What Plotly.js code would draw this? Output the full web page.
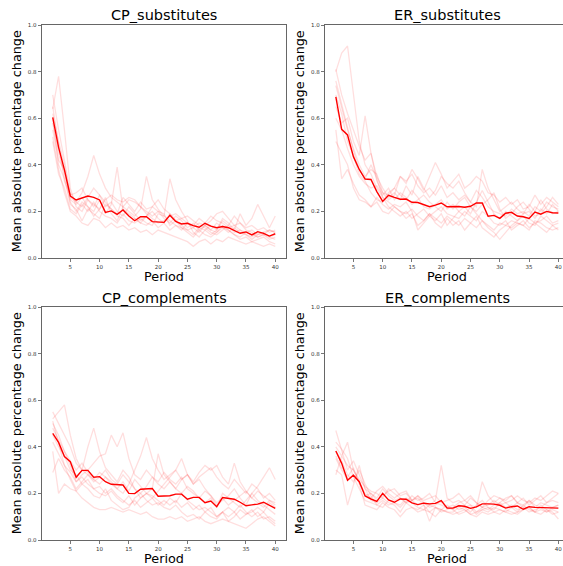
<!DOCTYPE html>
<html>
<head>
<meta charset="utf-8">
<script src="https://cdn.plot.ly/plotly-3.0.1.min.js"></script>
<style>
html,body{margin:0;padding:0;background:#fff;}
#chart{width:563px;height:566px;}
</style>
</head>
<body>
<div id="chart"></div>
<script>
const periods = [2,3,4,5,6,7,8,9,10,11,12,13,14,15,16,17,18,19,20,21,22,23,24,25,26,27,28,29,30,31,32,33,34,35,36,37,38,39,40];
const panelTitles = ["CP_substitutes","ER_substitutes","CP_complements","ER_complements"];
const xTickVals = [5,10,15,20,25,30,35,40];
const yTickVals = [0,0.2,0.4,0.6,0.8,1.0];

// Mean lines (bold red)
const meanCPsub = [0.604,0.475,0.378,0.266,0.249,0.257,0.266,0.260,0.249,0.196, 0.202,0.187,0.206,0.180,0.160,0.177,0.177,0.156,0.156,0.153, 0.183,0.157,0.146,0.149,0.139,0.132,0.149,0.137,0.130,0.135, 0.130,0.119,0.106,0.112,0.099,0.113,0.106,0.094,0.104];
const meanERsub = [0.692,0.552,0.528,0.435,0.380,0.339,0.337,0.285,0.243,0.269, 0.260,0.252,0.253,0.239,0.238,0.229,0.220,0.227,0.236,0.220, 0.221,0.221,0.218,0.222,0.236,0.236,0.179,0.183,0.170,0.192, 0.196,0.180,0.177,0.170,0.197,0.188,0.200,0.194,0.193];
const meanCPcomp = [0.458,0.419,0.358,0.336,0.269,0.299,0.299,0.269,0.272,0.250, 0.239,0.239,0.236,0.200,0.199,0.218,0.219,0.221,0.188,0.188, 0.190,0.197,0.197,0.175,0.183,0.183,0.160,0.167,0.143,0.182, 0.180,0.175,0.162,0.147,0.151,0.154,0.162,0.149,0.136];
const meanERcomp = [0.382,0.329,0.256,0.278,0.250,0.189,0.176,0.166,0.200,0.172, 0.162,0.176,0.175,0.159,0.152,0.158,0.155,0.157,0.169,0.137, 0.137,0.147,0.145,0.136,0.142,0.155,0.155,0.154,0.149,0.137, 0.143,0.146,0.132,0.143,0.140,0.139,0.139,0.137,0.137];

// Individual runs (faint red)
const runsCPsub = [
 [0.70,0.55,0.42,0.28,0.24,0.22,0.26,0.30,0.27,0.22, 0.24,0.20,0.18,0.22,0.19,0.16,0.18,0.20,0.17,0.15, 0.19,0.16,0.14,0.12,0.13,0.15,0.14,0.12,0.11,0.13, 0.12,0.10,0.09,0.11,0.10,0.09,0.10,0.08,0.09],
 [0.64,0.78,0.55,0.30,0.22,0.20,0.25,0.22,0.27,0.24, 0.21,0.19,0.26,0.23,0.20,0.24,0.21,0.22,0.25,0.21, 0.19,0.16,0.17,0.15,0.14,0.17,0.15,0.18,0.16,0.15, 0.13,0.14,0.12,0.11,0.12,0.10,0.11,0.12,0.11],
 [0.62,0.50,0.40,0.26,0.24,0.28,0.35,0.44,0.36,0.30, 0.26,0.24,0.22,0.25,0.24,0.22,0.20,0.18,0.20,0.17, 0.15,0.18,0.16,0.13,0.15,0.12,0.14,0.16,0.19,0.20, 0.17,0.14,0.15,0.13,0.14,0.12,0.13,0.11,0.12],
 [0.58,0.45,0.36,0.24,0.20,0.24,0.22,0.20,0.25,0.19, 0.23,0.39,0.21,0.19,0.17,0.15,0.18,0.22,0.20,0.19, 0.14,0.16,0.13,0.11,0.09,0.12,0.10,0.09,0.11,0.14, 0.12,0.10,0.08,0.09,0.07,0.08,0.09,0.07,0.06],
 [0.55,0.42,0.38,0.25,0.23,0.26,0.22,0.18,0.21,0.26, 0.19,0.16,0.22,0.20,0.18,0.21,0.35,0.25,0.21,0.18, 0.16,0.14,0.12,0.15,0.13,0.11,0.14,0.12,0.15,0.13, 0.11,0.13,0.11,0.10,0.09,0.11,0.10,0.09,0.10],
 [0.50,0.36,0.30,0.21,0.19,0.23,0.20,0.24,0.20,0.18, 0.17,0.15,0.19,0.16,0.15,0.17,0.15,0.14,0.19,0.18, 0.34,0.25,0.20,0.16,0.11,0.09,0.12,0.10,0.12,0.16, 0.14,0.11,0.12,0.10,0.08,0.10,0.11,0.09,0.08],
 [0.60,0.40,0.34,0.23,0.21,0.16,0.21,0.19,0.17,0.23, 0.21,0.18,0.17,0.14,0.17,0.15,0.14,0.16,0.13,0.15, 0.12,0.14,0.13,0.12,0.10,0.13,0.12,0.14,0.12,0.17, 0.15,0.12,0.19,0.14,0.17,0.23,0.18,0.13,0.18],
 [0.52,0.38,0.28,0.20,0.18,0.15,0.14,0.17,0.16,0.13, 0.15,0.13,0.14,0.12,0.13,0.11,0.12,0.10,0.12,0.11, 0.10,0.09,0.08,0.07,0.05,0.07,0.08,0.06,0.08,0.07, 0.09,0.08,0.07,0.06,0.07,0.06,0.05,0.06,0.05],
 [0.65,0.48,0.33,0.27,0.28,0.30,0.25,0.23,0.21,0.25, 0.27,0.25,0.24,0.26,0.25,0.22,0.19,0.17,0.15,0.16, 0.18,0.19,0.17,0.18,0.16,0.14,0.13,0.11,0.10,0.12, 0.14,0.18,0.15,0.12,0.11,0.09,0.10,0.12,0.11]
];
const runsERsub = [
 [0.80,0.88,0.91,0.70,0.50,0.40,0.36,0.30,0.26,0.24, 0.22,0.20,0.19,0.21,0.18,0.16,0.19,0.17,0.15,0.18, 0.16,0.14,0.17,0.15,0.13,0.16,0.14,0.12,0.15,0.14, 0.16,0.15,0.14,0.17,0.15,0.16,0.18,0.15,0.16],
 [0.81,0.70,0.62,0.55,0.48,0.42,0.45,0.33,0.28,0.27, 0.30,0.35,0.33,0.36,0.31,0.28,0.30,0.27,0.31,0.26, 0.28,0.25,0.27,0.24,0.29,0.26,0.22,0.20,0.19,0.18, 0.21,0.19,0.20,0.18,0.22,0.20,0.24,0.22,0.21],
 [0.65,0.58,0.60,0.50,0.44,0.61,0.45,0.35,0.30,0.26, 0.28,0.25,0.31,0.27,0.35,0.30,0.26,0.29,0.35,0.32, 0.30,0.33,0.28,0.24,0.22,0.38,0.30,0.25,0.20,0.22, 0.24,0.21,0.19,0.23,0.20,0.25,0.21,0.19,0.20],
 [0.74,0.64,0.55,0.47,0.40,0.35,0.38,0.36,0.28,0.25, 0.27,0.35,0.32,0.38,0.34,0.29,0.35,0.41,0.36,0.30, 0.33,0.36,0.30,0.32,0.35,0.33,0.28,0.27,0.24,0.26, 0.23,0.25,0.21,0.22,0.27,0.23,0.26,0.24,0.22],
 [0.55,0.34,0.38,0.32,0.27,0.25,0.22,0.24,0.20,0.19, 0.22,0.20,0.17,0.19,0.14,0.16,0.19,0.15,0.13,0.17, 0.14,0.16,0.12,0.15,0.18,0.13,0.11,0.09,0.12,0.14, 0.13,0.15,0.14,0.12,0.16,0.15,0.13,0.12,0.13],
 [0.50,0.45,0.40,0.30,0.25,0.24,0.22,0.26,0.23,0.21, 0.23,0.22,0.24,0.20,0.12,0.15,0.18,0.16,0.19,0.14, 0.17,0.20,0.18,0.22,0.19,0.16,0.13,0.11,0.08,0.11, 0.14,0.16,0.18,0.15,0.14,0.18,0.16,0.14,0.15],
 [0.70,0.62,0.50,0.44,0.36,0.33,0.28,0.25,0.24,0.28, 0.30,0.27,0.25,0.29,0.26,0.22,0.21,0.23,0.25,0.21, 0.23,0.20,0.22,0.19,0.24,0.29,0.24,0.19,0.17,0.20, 0.18,0.16,0.19,0.20,0.17,0.21,0.19,0.23,0.20],
 [0.60,0.55,0.47,0.40,0.35,0.32,0.30,0.31,0.27,0.30, 0.25,0.28,0.26,0.23,0.25,0.27,0.24,0.22,0.20,0.24, 0.21,0.24,0.26,0.22,0.20,0.23,0.25,0.28,0.21,0.17, 0.19,0.22,0.24,0.21,0.18,0.19,0.22,0.26,0.23],
 [0.76,0.66,0.56,0.46,0.38,0.34,0.40,0.34,0.26,0.22, 0.20,0.18,0.20,0.17,0.19,0.21,0.18,0.20,0.22,0.19, 0.18,0.17,0.20,0.18,0.16,0.20,0.18,0.15,0.14,0.16, 0.12,0.14,0.16,0.13,0.15,0.13,0.11,0.14,0.12]
];
const runsCPcomp = [
 [0.52,0.55,0.58,0.45,0.35,0.30,0.28,0.25,0.27,0.30, 0.26,0.24,0.28,0.25,0.22,0.20,0.23,0.27,0.24,0.22, 0.25,0.22,0.26,0.28,0.24,0.27,0.29,0.31,0.27,0.24, 0.22,0.26,0.23,0.20,0.24,0.22,0.18,0.20,0.17],
 [0.55,0.50,0.45,0.40,0.33,0.30,0.40,0.48,0.38,0.31, 0.28,0.25,0.30,0.27,0.22,0.18,0.20,0.19,0.17,0.15, 0.18,0.16,0.20,0.17,0.15,0.13,0.14,0.12,0.10,0.12, 0.14,0.12,0.09,0.11,0.13,0.10,0.12,0.09,0.07],
 [0.50,0.45,0.38,0.32,0.25,0.28,0.30,0.33,0.36,0.37, 0.45,0.40,0.46,0.35,0.28,0.26,0.30,0.27,0.25,0.29, 0.26,0.24,0.27,0.22,0.20,0.18,0.21,0.19,0.16,0.18, 0.15,0.17,0.19,0.21,0.18,0.16,0.14,0.17,0.15],
 [0.38,0.20,0.24,0.22,0.21,0.24,0.22,0.19,0.18,0.22, 0.17,0.15,0.13,0.14,0.18,0.20,0.17,0.15,0.16,0.14, 0.13,0.15,0.12,0.10,0.11,0.09,0.12,0.14,0.10,0.12, 0.08,0.10,0.13,0.11,0.12,0.14,0.12,0.16,0.14],
 [0.29,0.35,0.30,0.27,0.22,0.25,0.28,0.26,0.29,0.27, 0.25,0.22,0.20,0.24,0.30,0.36,0.44,0.35,0.30,0.26, 0.28,0.30,0.26,0.28,0.24,0.26,0.22,0.19,0.15,0.17, 0.19,0.22,0.18,0.15,0.20,0.17,0.15,0.13,0.11],
 [0.51,0.42,0.32,0.26,0.21,0.18,0.16,0.14,0.13,0.13, 0.14,0.13,0.12,0.13,0.12,0.11,0.12,0.10,0.09,0.09, 0.10,0.09,0.10,0.08,0.09,0.10,0.08,0.07,0.08,0.09, 0.08,0.07,0.06,0.05,0.07,0.09,0.10,0.08,0.06],
 [0.45,0.40,0.36,0.30,0.28,0.24,0.26,0.22,0.20,0.19, 0.21,0.18,0.16,0.19,0.15,0.18,0.20,0.22,0.37,0.28, 0.25,0.22,0.20,0.23,0.21,0.18,0.16,0.18,0.14,0.20, 0.18,0.16,0.14,0.17,0.20,0.23,0.27,0.31,0.26],
 [0.48,0.43,0.38,0.34,0.30,0.33,0.29,0.26,0.24,0.27, 0.24,0.22,0.25,0.21,0.26,0.23,0.20,0.18,0.21,0.24, 0.27,0.30,0.35,0.28,0.25,0.29,0.32,0.30,0.32,0.27, 0.24,0.33,0.25,0.21,0.18,0.21,0.19,0.17,0.16],
 [0.42,0.37,0.32,0.29,0.25,0.27,0.24,0.22,0.23,0.20, 0.22,0.19,0.17,0.15,0.17,0.14,0.16,0.18,0.15,0.17, 0.15,0.17,0.14,0.16,0.13,0.15,0.12,0.10,0.09,0.12, 0.10,0.12,0.15,0.12,0.10,0.12,0.09,0.10,0.08]
];
const runsERcomp = [
 [0.47,0.38,0.30,0.34,0.28,0.22,0.20,0.18,0.22,0.19, 0.17,0.18,0.16,0.17,0.15,0.16,0.14,0.15,0.17,0.14, 0.15,0.13,0.14,0.15,0.12,0.14,0.13,0.15,0.16,0.14, 0.15,0.13,0.14,0.12,0.13,0.14,0.12,0.13,0.12],
 [0.40,0.36,0.42,0.30,0.25,0.20,0.18,0.21,0.23,0.20, 0.18,0.20,0.21,0.17,0.19,0.16,0.15,0.17,0.32,0.18, 0.16,0.17,0.15,0.18,0.16,0.14,0.15,0.17,0.15,0.16, 0.14,0.16,0.15,0.17,0.14,0.16,0.15,0.14,0.15],
 [0.30,0.28,0.15,0.24,0.32,0.22,0.17,0.16,0.18,0.16, 0.15,0.12,0.16,0.14,0.13,0.15,0.12,0.10,0.13,0.15, 0.13,0.11,0.12,0.14,0.11,0.13,0.12,0.14,0.13,0.12, 0.14,0.12,0.15,0.13,0.12,0.11,0.13,0.12,0.09],
 [0.35,0.30,0.26,0.28,0.25,0.19,0.20,0.17,0.19,0.21, 0.22,0.19,0.20,0.17,0.18,0.15,0.08,0.14,0.12,0.13, 0.14,0.16,0.17,0.15,0.14,0.25,0.19,0.16,0.18,0.17, 0.19,0.16,0.18,0.15,0.17,0.19,0.16,0.17,0.16],
 [0.28,0.36,0.32,0.30,0.26,0.23,0.21,0.20,0.18,0.22, 0.20,0.18,0.16,0.19,0.17,0.18,0.20,0.16,0.15,0.14, 0.13,0.15,0.14,0.12,0.15,0.17,0.14,0.13,0.16,0.18, 0.19,0.16,0.14,0.17,0.15,0.14,0.16,0.18,0.20],
 [0.38,0.34,0.28,0.25,0.30,0.24,0.19,0.15,0.14,0.17, 0.16,0.14,0.17,0.16,0.14,0.13,0.15,0.14,0.13,0.12, 0.12,0.14,0.13,0.11,0.12,0.13,0.14,0.12,0.11,0.13, 0.12,0.11,0.13,0.14,0.12,0.15,0.13,0.11,0.12],
 [0.42,0.39,0.35,0.27,0.22,0.17,0.16,0.15,0.17,0.15, 0.16,0.15,0.18,0.17,0.19,0.17,0.18,0.19,0.16,0.17, 0.18,0.20,0.17,0.19,0.16,0.14,0.17,0.19,0.18,0.16, 0.17,0.19,0.17,0.16,0.18,0.17,0.19,0.21,0.20],
 [0.36,0.31,0.27,0.31,0.24,0.15,0.14,0.13,0.16,0.14, 0.13,0.10,0.13,0.14,0.12,0.13,0.12,0.14,0.13,0.12, 0.11,0.12,0.13,0.11,0.10,0.12,0.11,0.12,0.13,0.12, 0.11,0.12,0.13,0.14,0.12,0.13,0.12,0.14,0.15]
];

const W = 563, H = 566;
// plot boxes in pixels [left, right, top, bottom]
const boxes = [
  [41.6, 286.4, 25, 258],
  [324.7, 563, 25, 258],
  [41.6, 286.4, 307, 540],
  [324.7, 563, 307, 540]
];
const pxPerUnit = (286.4 - 41.6) / (41.9 - 0.1);

const means = [meanCPsub, meanERsub, meanCPcomp, meanERcomp];
const runs = [runsCPsub, runsERsub, runsCPcomp, runsERcomp];

const traces = [];
const layout = {
  width: W, height: H,
  margin: {l:0, r:0, t:0, b:0},
  paper_bgcolor: '#fff', plot_bgcolor: '#fff',
  showlegend: false,
  font: {family: 'DejaVu Sans, sans-serif', color: '#000'},
  annotations: []
};
const spine = '#555';
for (let p = 0; p < 4; p++) {
  const [l, r, t, b] = boxes[p];
  const xa = p === 0 ? 'x' : 'x' + (p + 1);
  const ya = p === 0 ? 'y' : 'y' + (p + 1);
  const xKey = p === 0 ? 'xaxis' : 'xaxis' + (p + 1);
  const yKey = p === 0 ? 'yaxis' : 'yaxis' + (p + 1);
  const xmax = 0.1 + (r - l) / pxPerUnit;
  const clipped = (p % 2 === 1);
  layout[xKey] = {
    domain: [l / W, r / W], anchor: ya,
    range: [0.1, xmax], tickvals: xTickVals, ticks: 'outside', ticklen: 3, tickwidth: 0.8, tickcolor: spine,
    showline: true, linecolor: spine, linewidth: 0.9, mirror: true, showgrid: false, zeroline: false,
    tickfont: {size: 5.5, color: '#333'}, fixedrange: true
  };
  layout[yKey] = {
    domain: [(H - b) / H, (H - t) / H], anchor: xa,
    range: [0, 1], tickvals: yTickVals, tickformat: '.1f', ticks: 'outside', ticklen: 3, tickwidth: 0.8, tickcolor: spine,
    showline: true, linecolor: spine, linewidth: 0.9, mirror: clipped ? false : true, showgrid: false, zeroline: false,
    tickfont: {size: 5.5, color: '#333'}, fixedrange: true
  };
  runs[p].forEach((run) => {
    traces.push({x: periods, y: run, xaxis: xa, yaxis: ya, type: 'scatter', mode: 'lines',
      line: {color: 'rgba(255,0,0,0.13)', width: 1.3}, hoverinfo: 'skip'});
  });
  traces.push({x: periods, y: means[p], xaxis: xa, yaxis: ya, type: 'scatter', mode: 'lines',
    line: {color: 'rgb(255,0,0)', width: 1.4}});

  const cx = (l + Math.min(r, l + (286.4 - 41.6))) / 2;
  const fullR = l + (286.4 - 41.6);
  const centerX = (l + fullR) / 2;
  layout.annotations.push({text: panelTitles[p], xref: 'paper', yref: 'paper', x: centerX / W, y: 1 - (t - 9.5) / H,
    xanchor: 'center', yanchor: 'middle', showarrow: false, font: {size: 14.5, color: '#000'}});
  layout.annotations.push({text: 'Period', xref: 'paper', yref: 'paper', x: centerX / W, y: 1 - (b + 18.7) / H,
    xanchor: 'center', yanchor: 'middle', showarrow: false, font: {size: 12.8, color: '#000'}});
  layout.annotations.push({text: 'Mean absolute percentage change', xref: 'paper', yref: 'paper', x: (l - 24.9) / W, y: 1 - ((t + b) / 2) / H,
    xanchor: 'center', yanchor: 'middle', textangle: -90, showarrow: false, font: {size: 12.8, color: '#000'}});
}

Plotly.newPlot('chart', traces, layout, {displayModeBar: false, staticPlot: true});
</script>
</body>
</html>
